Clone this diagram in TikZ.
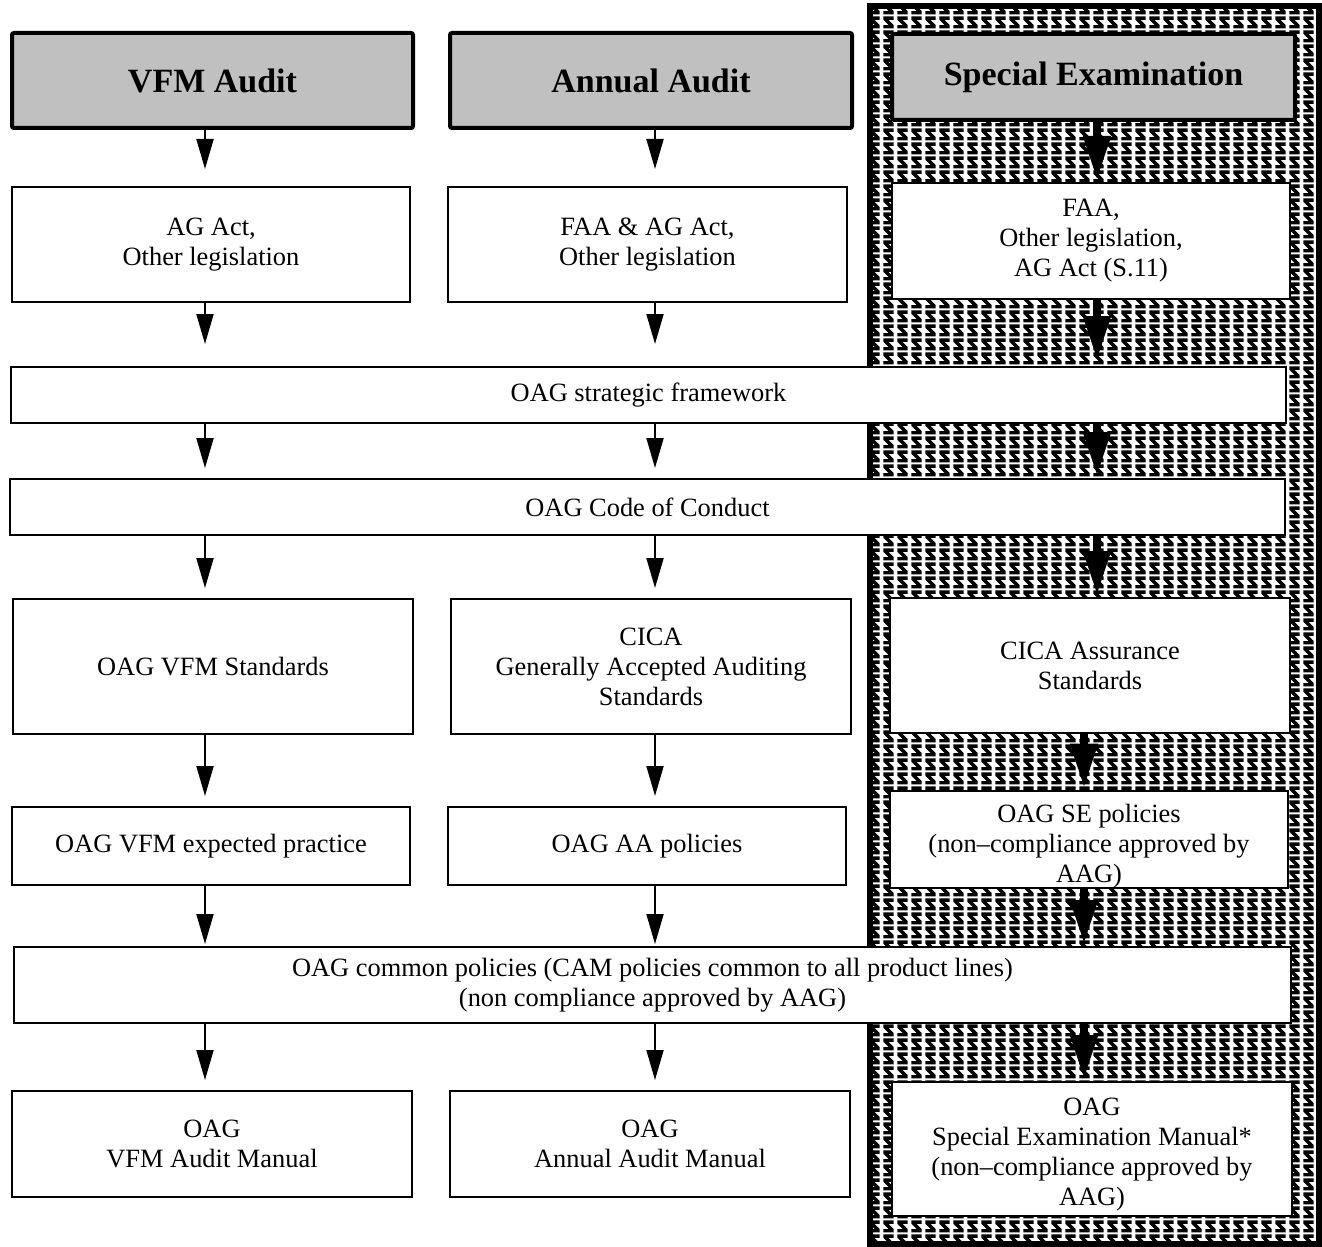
\documentclass[tikz,border=0pt]{standalone}
\usepackage{fontspec}
\setmainfont{Liberation Serif}
\usetikzlibrary{arrows.meta,patterns.meta}

\definecolor{headgray}{RGB}{192,192,192}

\tikzdeclarepattern{
  name=sesign, type=uncolored,
  bounding box={(0pt,0pt) and (7pt,7pt)},
  tile size={(7pt,7pt)},
  code={
    \fill (0.8pt,6.7pt) -- (6.2pt,6.7pt) -- (6.2pt,4.9pt) -- (3.4pt,4.9pt) -- (6.2pt,2.1pt)
      -- (6.2pt,0.3pt) -- (0.8pt,0.3pt) -- (0.8pt,2.1pt) -- (3.6pt,2.1pt) -- (0.8pt,4.9pt) -- cycle;
  }
}

\begin{document}
\begin{tikzpicture}[
		x=0.5pt, y=-0.5pt,
		every node/.style={rectangle, draw, fill=white, line width=1pt, align=center,
			inner sep=0pt, font=\fontsize{13.2}{15}\selectfont},
		head/.style={line width=2pt, fill=headgray, rounded corners=1pt,
			font=\fontsize{17}{20}\selectfont\bfseries},
		flow/.style={-{Triangle[length=15pt, width=8.5pt]}, line width=1pt, shorten >=5pt},
		seflow/.style={-{Triangle[length=22pt, width=13pt]}, line width=4pt, shorten >=1pt}
	]
  \useasboundingbox (0,0) rectangle (1322,1247);
  % special examination panel
  \fill[white] (870,6) rectangle (1319,1244);
  \fill[pattern=sesign, pattern color=black] (870,6) rectangle (1319,1244);
  \draw[line width=3pt] (870,6) rectangle (1319,1244);

  % arrow columns
  \coordinate (vfm_col) at (205, 0);
  \coordinate (aa_col) at (655, 0);
  \coordinate (se_col) at (1097, 0);
  \coordinate (se_low) at (1084, 0);

  \node (vfm_head) [head, minimum width=200.5pt, minimum height=47.5pt] at (212.5, 80.5) {VFM Audit};
  \node (aa_head) [head, minimum width=201pt, minimum height=47.5pt] at (651, 80.5) {Annual Audit};
  \node (se_head) [head, minimum width=201.5pt, minimum height=43pt] at (1093.5, 77) {Special Examination};

  \node (vfm_law) [minimum width=199pt, minimum height=57.5pt] at (211, 244.5) {AG Act,\\Other legislation};
  \node (aa_law) [minimum width=199.5pt, minimum height=57.5pt] at (647.5, 244.5) {FAA \& AG Act,\\Other legislation};
  \node (se_law) [minimum width=199pt, minimum height=58pt] at (1091, 241) {FAA,\\Other legislation,\\AG Act (S.11)};

  \node (strategy) [minimum width=637.5pt, minimum height=28pt] at (648.5, 395) {OAG strategic framework};
  \node (conduct) [minimum width=637.5pt, minimum height=28pt] at (647.5, 507) {OAG Code of Conduct};

  \node (vfm_std) [minimum width=200pt, minimum height=67.5pt] at (213, 666.5) {OAG VFM Standards};
  \node (aa_std) [minimum width=200pt, minimum height=67.5pt] at (651, 666.5) {CICA\\Generally Accepted Auditing\\Standards};
  \node (se_std) [minimum width=200pt, minimum height=67.5pt] at (1090, 665.5) {CICA Assurance\\Standards};

  \node (vfm_prac) [minimum width=199pt, minimum height=39pt] at (211, 846) {OAG VFM expected practice};
  \node (aa_pol) [minimum width=199pt, minimum height=39pt] at (647, 846) {OAG AA policies};
  \node (se_pol) [minimum width=199pt, minimum height=47.5pt] at (1089, 839.5) {\rule{0pt}{16pt}OAG SE policies\\(non--compliance approved by\\AAG)};

  \node (common) [minimum width=638.5pt, minimum height=38pt] at (652.5, 985) {OAG common policies (CAM policies common to all product lines)\\(non compliance approved by AAG)};

  \node (vfm_man) [minimum width=200pt, minimum height=53pt] at (212, 1144) {OAG\\VFM Audit Manual};
  \node (aa_man) [minimum width=200pt, minimum height=53pt] at (650, 1144) {OAG\\Annual Audit Manual};
  \node (se_man) [minimum width=200pt, minimum height=67pt] at (1092, 1149) {\rule{0pt}{14pt}OAG\\Special Examination Manual*\\(non--compliance approved by\\AAG)};

  % VFM column
  \draw[flow, shorten >=8.5pt] (vfm_head.south -| vfm_col) -- (vfm_col |- vfm_law.north);
  \draw[flow, shorten >=11pt] (vfm_law.south -| vfm_col) -- (vfm_col |- strategy.north);
  \draw[flow] (strategy.south -| vfm_col) -- (vfm_col |- conduct.north);
  \draw[flow] (conduct.south -| vfm_col) -- (vfm_col |- vfm_std.north);
  \draw[flow] (vfm_std.south -| vfm_col) -- (vfm_col |- vfm_prac.north);
  \draw[flow, shorten >=1pt] (vfm_prac.south -| vfm_col) -- (vfm_col |- common.north);
  \draw[flow] (common.south -| vfm_col) -- (vfm_col |- vfm_man.north);

  % annual audit column
  \draw[flow, shorten >=8.5pt] (aa_head.south -| aa_col) -- (aa_col |- aa_law.north);
  \draw[flow, shorten >=11pt] (aa_law.south -| aa_col) -- (aa_col |- strategy.north);
  \draw[flow] (strategy.south -| aa_col) -- (aa_col |- conduct.north);
  \draw[flow] (conduct.south -| aa_col) -- (aa_col |- aa_std.north);
  \draw[flow] (aa_std.south -| aa_col) -- (aa_col |- aa_pol.north);
  \draw[flow, shorten >=1pt] (aa_pol.south -| aa_col) -- (aa_col |- common.north);
  \draw[flow] (common.south -| aa_col) -- (aa_col |- aa_man.north);

  % special examination column
  \draw[seflow] (se_head.south -| se_col) -- (se_col |- se_law.north);
  \draw[seflow, shorten >=3pt] (se_law.south -| se_col) -- (se_col |- strategy.north);
  \draw[seflow] (strategy.south -| se_col) -- (se_col |- conduct.north);
  \draw[seflow] (conduct.south -| se_col) -- (se_col |- se_std.north);
  \draw[seflow] (se_std.south -| se_low) -- (se_low |- se_pol.north);
  \draw[seflow] (se_pol.south -| se_low) -- (se_low |- common.north);
  \draw[seflow] (common.south -| se_low) -- (se_low |- se_man.north);
\end{tikzpicture}
\end{document}
